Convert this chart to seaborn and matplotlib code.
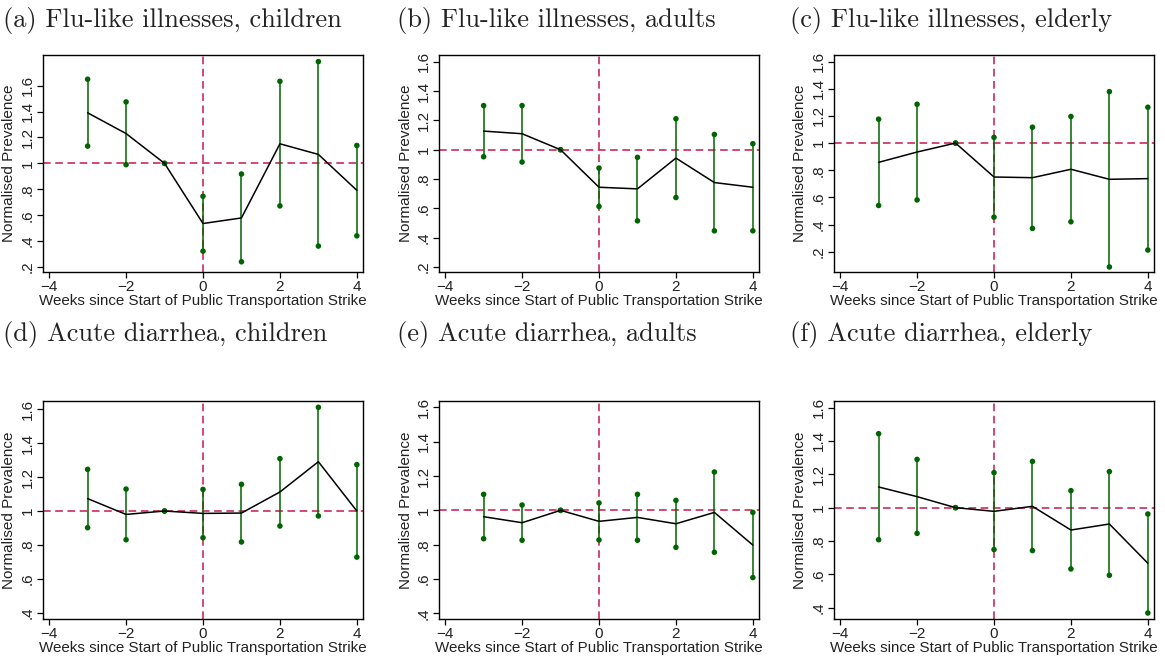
import numpy as np
import pandas as pd
import matplotlib
matplotlib.use("Agg")
import matplotlib.pyplot as plt
import seaborn as sns

weeks = [-3, -2, -1, 0, 1, 2, 3, 4]

titles = [
    "(a) Flu-like illnesses, children",
    "(b) Flu-like illnesses, adults",
    "(c) Flu-like illnesses, elderly",
    "(d) Acute diarrhea, children",
    "(e) Acute diarrhea, adults",
    "(f) Acute diarrhea, elderly",
]

# point estimates
est_a = [1.39, 1.23, 1.00, 0.536, 0.579, 1.151, 1.069, 0.792]
est_b = [1.127, 1.109, 1.00, 0.744, 0.733, 0.943, 0.776, 0.744]
est_c = [0.858, 0.934, 1.00, 0.750, 0.745, 0.807, 0.733, 0.738]
est_d = [1.073, 0.980, 1.00, 0.986, 0.988, 1.112, 1.290, 1.00]
est_e = [0.963, 0.928, 1.00, 0.936, 0.959, 0.922, 0.988, 0.798]
est_f = [1.124, 1.066, 1.00, 0.978, 1.008, 0.866, 0.902, 0.667]

# upper confidence bounds
hi_a = [1.649, 1.474, 1.00, 0.746, 0.918, 1.633, 1.785, 1.138]
hi_b = [1.301, 1.301, 1.00, 0.875, 0.948, 1.211, 1.104, 1.041]
hi_c = [1.176, 1.286, 1.00, 1.042, 1.117, 1.196, 1.379, 1.264]
hi_d = [1.245, 1.129, 1.00, 1.127, 1.157, 1.308, 1.610, 1.273]
hi_e = [1.093, 1.031, 1.00, 1.043, 1.093, 1.058, 1.223, 0.988]
hi_f = [1.443, 1.289, 1.00, 1.210, 1.277, 1.102, 1.216, 0.962]

# lower confidence bounds
lo_a = [1.133, 0.990, 1.00, 0.323, 0.241, 0.672, 0.362, 0.441]
lo_b = [0.952, 0.916, 1.00, 0.613, 0.515, 0.674, 0.447, 0.447]
lo_c = [0.540, 0.581, 1.00, 0.454, 0.371, 0.420, 0.087, 0.212]
lo_d = [0.902, 0.831, 1.00, 0.843, 0.818, 0.912, 0.971, 0.729]
lo_e = [0.835, 0.826, 1.00, 0.828, 0.826, 0.785, 0.756, 0.609]
lo_f = [0.808, 0.846, 1.00, 0.749, 0.743, 0.633, 0.595, 0.369]

yticks_top = [0.2, 0.4, 0.6, 0.8, 1.0, 1.2, 1.4, 1.6]
yticks_bottom = [0.4, 0.6, 0.8, 1.0, 1.2, 1.4, 1.6]
xticks = [-4, -2, 0, 2, 4]

ylims = [(0.162, 1.836), (0.166, 1.646), (0.05, 1.649),
         (0.365, 1.647), (0.368, 1.636), (0.333, 1.639)]

series = [(est_a, lo_a, hi_a), (est_b, lo_b, hi_b), (est_c, lo_c, hi_c),
          (est_d, lo_d, hi_d), (est_e, lo_e, hi_e), (est_f, lo_f, hi_f)]

sns.set_style("ticks")
plt.rcParams["font.family"] = ["Liberation Sans", "DejaVu Sans"]

W, H = 1165, 657
fig = plt.figure(figsize=(W / 100, H / 100), dpi=100)

lefts = [43, 439, 834]
tops = [55, 401]
bottoms = [272, 619]
title_x = [3, 397, 790]
title_y = [20, 335]

GREEN = "#006400"
RED = "#c8174a"


def fmt(v):
    s = f"{v:.1f}"
    if s.endswith(".0"):
        s = s[:-2]
    if s.startswith("0"):
        s = s[1:]
    return s


for i, (title, (est, lo, hi), ylim) in enumerate(zip(titles, series, ylims)):
    r, c = divmod(i, 3)
    left = lefts[c] / W
    width = 320 / W
    bottom = 1 - bottoms[r] / H
    height = (bottoms[r] - tops[r]) / H
    ax = fig.add_axes([left, bottom, width, height])
    df = pd.DataFrame({"week": weeks, "est": est, "lo": lo, "hi": hi})

    ax.axhline(1.0, color=RED, lw=1.1, ls=(0, (5, 3)), zorder=1)
    ax.axvline(0.0, color=RED, lw=1.1, ls=(0, (5, 3)), zorder=1)
    ax.vlines(df["week"], df["lo"], df["hi"], color=GREEN, lw=1.1, zorder=2)
    pts = pd.concat([df[["week", "lo"]].rename(columns={"lo": "v"}),
                     df[["week", "hi"]].rename(columns={"hi": "v"})])
    sns.scatterplot(data=pts, x="week", y="v", ax=ax, color=GREEN, s=16,
                    edgecolor="none", zorder=3)
    sns.lineplot(data=df, x="week", y="est", ax=ax, color="black", lw=1.1,
                 zorder=4)

    ax.set_xlim(-4.16, 4.16)
    ax.set_ylim(*ylim)
    ax.set_xticks(xticks)
    ax.set_xticklabels([f"\u2212{abs(t)}" if t < 0 else str(t) for t in xticks])
    yt = yticks_top if r == 0 else yticks_bottom
    ax.set_yticks(yt)
    ax.set_yticklabels([fmt(v) for v in yt], rotation=90, va="center")
    ax.tick_params(axis="both", labelsize=11, length=4, width=0.9,
                   color="black", labelcolor="#222222", pad=2)
    for sp in ax.spines.values():
        sp.set_visible(True)
        sp.set_color("black")
        sp.set_linewidth(1.0)
    ax.set_xlabel("Weeks since Start of Public Transportation Strike",
                  fontsize=10.9, labelpad=0, color="#222222")
    ax.set_ylabel("Normalised Prevalence", fontsize=11, labelpad=3,
                  color="#222222")

    fig.text(title_x[c] / W, 1 - title_y[r] / H, title, fontsize=19,
             family=["cmr10", "DejaVu Serif"], ha="left", va="center",
             color="#222222")

fig.savefig("out.png", dpi=100)
